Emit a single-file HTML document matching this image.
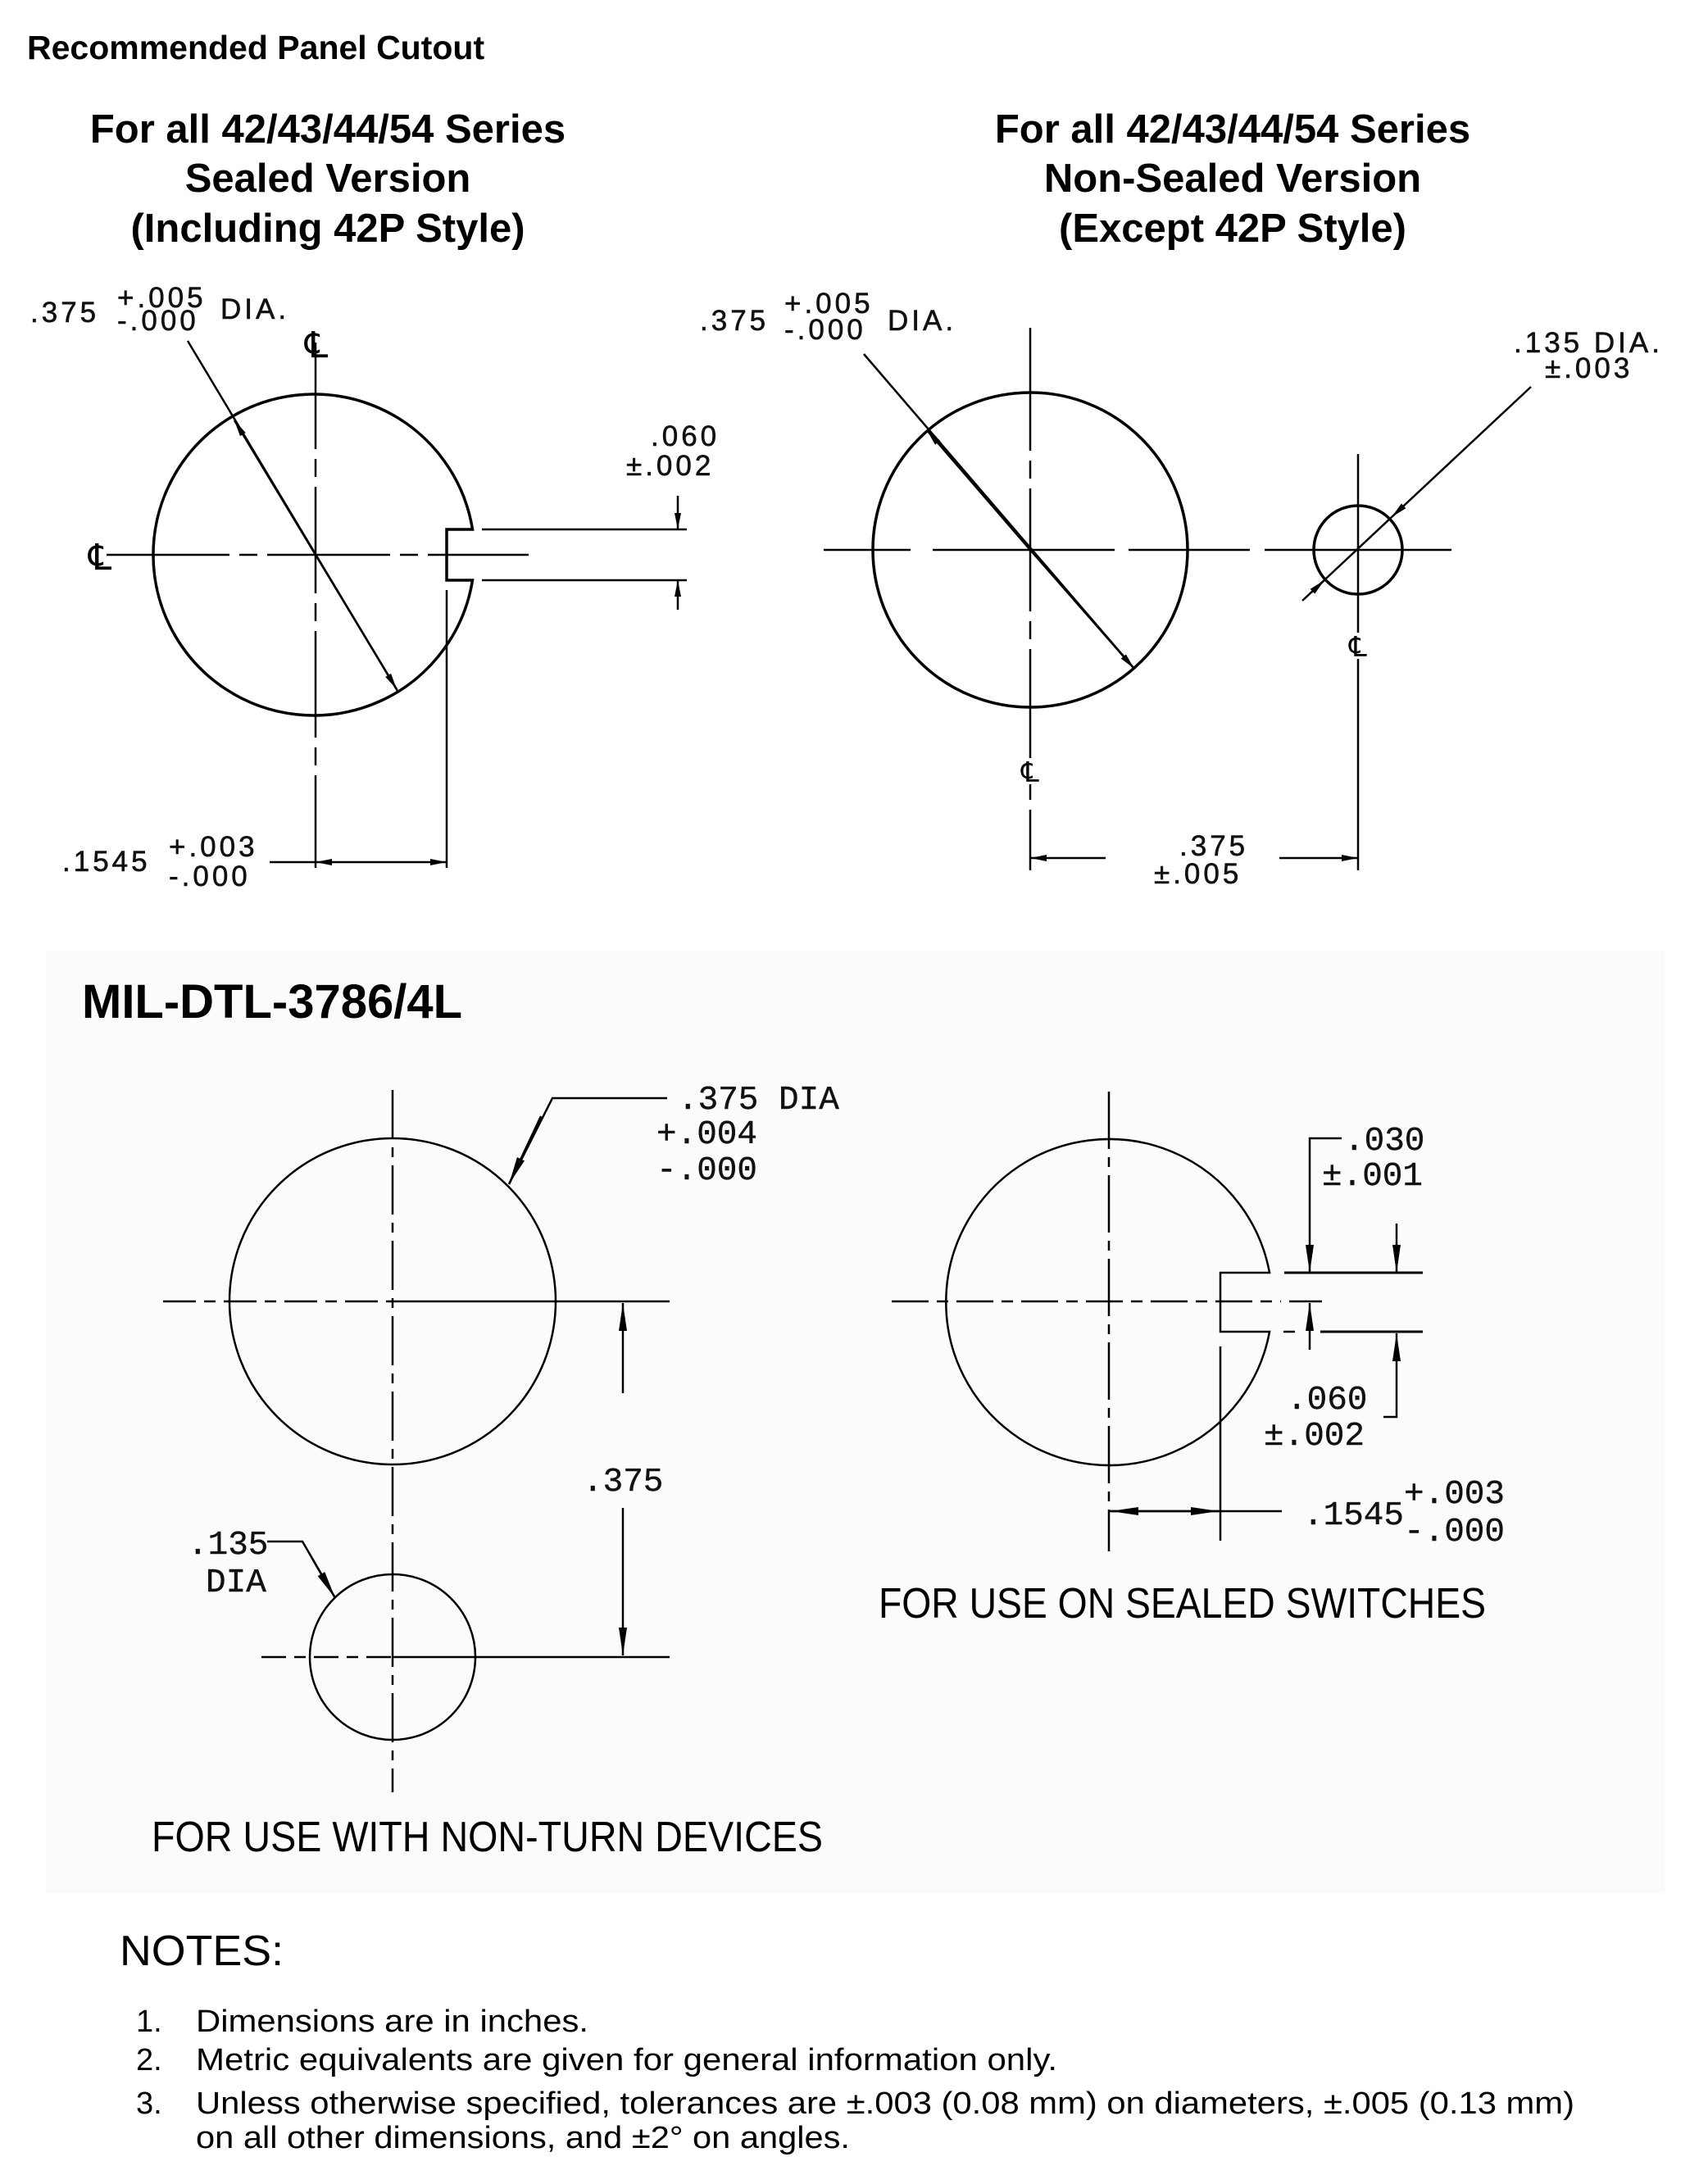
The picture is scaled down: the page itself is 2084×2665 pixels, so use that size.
<!DOCTYPE html>
<html><head><meta charset="utf-8"><style>
html,body{margin:0;padding:0;background:#fff}
svg{display:block}
.t{font-family:"Liberation Sans",sans-serif;fill:#000}
.d{font-family:"Liberation Sans",sans-serif;font-size:35px;letter-spacing:4px;fill:#111;stroke:#111;stroke-width:0.6}
.m{font-family:"Liberation Mono",monospace;font-size:41px;fill:#111;stroke:#111;stroke-width:0.4}
</style></head><body>
<svg width="2084" height="2665" viewBox="0 0 2084 2665" xmlns="http://www.w3.org/2000/svg">
<defs>
<marker id="a" viewBox="0 0 20 8" refX="20" refY="4" markerWidth="20" markerHeight="8" markerUnits="userSpaceOnUse" orient="auto-start-reverse"><path d="M0,0 L20,4 L0,8 Z" fill="#000"/></marker>
<marker id="b" viewBox="0 0 34 12" refX="34" refY="6" markerWidth="34" markerHeight="12" markerUnits="userSpaceOnUse" orient="auto-start-reverse"><path d="M0,1 L34,6 L0,11 Z" fill="#000"/></marker>
</defs>
<rect x="56" y="1160" width="1975" height="1150" fill="#fbfbfb"/>

<!-- Headings -->
<text class="t" x="33" y="72" font-size="41" font-weight="bold">Recommended Panel Cutout</text>
<g class="t" font-size="49" font-weight="bold" text-anchor="middle">
<text x="400" y="174">For all 42/43/44/54 Series</text>
<text x="400" y="234">Sealed Version</text>
<text x="400" y="295">(Including 42P Style)</text>
<text x="1504" y="174">For all 42/43/44/54 Series</text>
<text x="1504" y="234">Non-Sealed Version</text>
<text x="1504" y="295">(Except 42P Style)</text>
</g>

<!-- TOP LEFT -->
<g stroke="#000" fill="none">
<path d="M576.5 646 A196 196 0 1 0 576.5 708 L545 708 L545 646 Z" stroke-width="3.5"/>
<line x1="385" y1="418" x2="385" y2="1059" stroke-width="2.5" stroke-dasharray="130 12 22 12"/>
<line x1="130" y1="677" x2="645" y2="677" stroke-width="2.5" stroke-dasharray="150 12 22 12"/>
<line x1="588" y1="646" x2="838" y2="646" stroke-width="2.5"/>
<line x1="588" y1="708" x2="838" y2="708" stroke-width="2.5"/>
<line x1="229" y1="416" x2="485" y2="843" stroke-width="2.5"/>
<line x1="385" y1="677" x2="286" y2="513" stroke-width="2.5" marker-end="url(#a)"/>
<line x1="385" y1="677" x2="484" y2="841" stroke-width="2.5" marker-end="url(#a)"/>
<line x1="827" y1="605" x2="827" y2="646" stroke-width="2.5" marker-end="url(#a)"/>
<line x1="827" y1="744" x2="827" y2="708" stroke-width="2.5" marker-end="url(#a)"/>
<line x1="545" y1="720" x2="545" y2="1059" stroke-width="2.5"/>
<line x1="385" y1="1052" x2="545" y2="1052" stroke-width="2.5" marker-start="url(#a)" marker-end="url(#a)"/>
<line x1="329" y1="1052" x2="385" y2="1052" stroke-width="2.5"/>
</g>
<g class="d">
<text x="37" y="393">.375</text>
<text x="143" y="375">+.005</text>
<text x="143" y="403">-.000</text>
<text x="269" y="389">DIA.</text>
<text x="794" y="544">.060</text>
<text x="764" y="580">±.002</text>
<text x="76" y="1063">.1545</text>
<text x="206" y="1045">+.003</text>
<text x="206" y="1081">-.000</text>
</g>
<text class="t" x="372" y="436" font-size="44">℄</text>
<text class="t" x="108" y="695" font-size="44">℄</text>

<!-- TOP RIGHT -->
<g stroke="#000" fill="none">
<circle cx="1257" cy="671" r="192" stroke-width="3.5"/>
<circle cx="1657" cy="671" r="54" stroke-width="3.5"/>
<line x1="1257" y1="400" x2="1257" y2="1062" stroke-width="2.5" stroke-dasharray="150 12 22 12"/>
<line x1="1657" y1="554" x2="1657" y2="1062" stroke-width="2.5"/>
<path d="M1005 671 H1111 M1138 671 H1360 M1377 671 H1525 M1543 671 H1771" stroke-width="2.5"/>
<line x1="1054" y1="432" x2="1384" y2="816" stroke-width="2.5"/>
<line x1="1257" y1="671" x2="1131" y2="525" stroke-width="2.5" marker-end="url(#a)"/>
<line x1="1257" y1="671" x2="1384" y2="816" stroke-width="2.5" marker-end="url(#a)"/>
<line x1="1868" y1="472" x2="1698" y2="631" stroke-width="2.5" marker-end="url(#a)"/>
<line x1="1698" y1="631" x2="1589" y2="733" stroke-width="2.5"/>
<line x1="1600" y1="723" x2="1616" y2="708" stroke-width="2.5" marker-end="url(#a)"/>
<line x1="1349" y1="1047" x2="1257" y2="1047" stroke-width="2.5" marker-end="url(#a)"/>
<line x1="1561" y1="1047" x2="1657" y2="1047" stroke-width="2.5" marker-end="url(#a)"/>
</g>
<g class="d">
<text x="854" y="403">.375</text>
<text x="957" y="382">+.005</text>
<text x="957" y="414">-.000</text>
<text x="1083" y="403">DIA.</text>
<text x="1847" y="430">.135 DIA.</text>
<text x="1885" y="461">±.003</text>
<text x="1439" y="1044">.375</text>
<text x="1408" y="1078">±.005</text>
</g>
<rect x="1247" y="925" width="20" height="32" fill="#fff"/>
<text class="t" x="1246" y="954" font-size="34">℄</text>
<rect x="1647" y="772" width="20" height="32" fill="#fff"/>
<text class="t" x="1646" y="801" font-size="34">℄</text>

<!-- MIL section -->
<text class="t" x="100" y="1242" font-size="58" font-weight="bold">MIL-DTL-3786/4L</text>
<g stroke="#000" fill="none">
<circle cx="479" cy="1588" r="199" stroke-width="2.5"/>
<circle cx="479" cy="2022" r="101" stroke-width="2.5"/>
<line x1="479" y1="1330" x2="479" y2="2187" stroke-width="2.5" stroke-dasharray="60 10 12 10"/>
<line x1="199" y1="1588" x2="479" y2="1588" stroke-width="2.5" stroke-dasharray="40 10 14 10"/>
<line x1="479" y1="1588" x2="817" y2="1588" stroke-width="2.5"/>
<line x1="319" y1="2022" x2="479" y2="2022" stroke-width="2.5" stroke-dasharray="30 10 14 10"/>
<line x1="479" y1="2022" x2="817" y2="2022" stroke-width="2.5"/>
<line x1="760" y1="1700" x2="760" y2="1590" stroke-width="2.5" marker-end="url(#b)"/>
<line x1="760" y1="1840" x2="760" y2="2020" stroke-width="2.5" marker-end="url(#b)"/>
<polyline points="814,1340 674,1340 621,1445" stroke-width="2.5"/>
<line x1="660" y1="1362" x2="621" y2="1445" stroke-width="2.5" marker-end="url(#b)"/>
<polyline points="326,1881 369,1881 409,1950" stroke-width="2.5"/>
<line x1="380" y1="1900" x2="409" y2="1950" stroke-width="2.5" marker-end="url(#b)"/>
</g>
<g class="m">
<text x="827" y="1353">.375 DIA</text>
<text x="801" y="1395">+.004</text>
<text x="801" y="1439">-.000</text>
<text x="711" y="1819">.375</text>
<text x="229" y="1896">.135</text>
<text x="251" y="1942">DIA</text>
</g>
<text class="t" x="185" y="2259" font-size="52" textLength="819" lengthAdjust="spacingAndGlyphs">FOR  USE  WITH  NON-TURN  DEVICES</text>

<g stroke="#000" fill="none">
<path d="M1549 1553 A199 199 0 1 0 1549 1625 L1489 1625 L1489 1553 Z" stroke-width="2.5"/>
<line x1="1353" y1="1332" x2="1353" y2="1893" stroke-width="2.5" stroke-dasharray="70 10 12 10"/>
<line x1="1088" y1="1588" x2="1563" y2="1588" stroke-width="2.5" stroke-dasharray="45 10 14 10"/>
<line x1="1573" y1="1588" x2="1613" y2="1588" stroke-width="2.5"/>
<line x1="1489" y1="1643" x2="1489" y2="1880" stroke-width="2.5"/>
<line x1="1567" y1="1553" x2="1736" y2="1553" stroke-width="3"/>
<line x1="1611" y1="1625" x2="1736" y2="1625" stroke-width="3"/>
<polyline points="1637,1389 1598,1389 1598,1500" stroke-width="2.5"/>
<line x1="1598" y1="1500" x2="1598" y2="1553" stroke-width="2.5" marker-end="url(#b)"/>
<line x1="1704" y1="1493" x2="1704" y2="1553" stroke-width="2.5" marker-end="url(#b)"/>
<line x1="1598" y1="1647" x2="1598" y2="1590" stroke-width="2.5" marker-end="url(#b)"/>
<polyline points="1688,1729 1704,1729 1704,1680" stroke-width="2.5"/>
<line x1="1704" y1="1680" x2="1704" y2="1627" stroke-width="2.5" marker-end="url(#b)"/>
<line x1="1566" y1="1625" x2="1580" y2="1625" stroke-width="2.5"/>
<line x1="1353" y1="1844" x2="1564" y2="1844" stroke-width="2.5"/>
<line x1="1420" y1="1844" x2="1355" y2="1844" stroke-width="2.5" marker-end="url(#b)"/>
<line x1="1420" y1="1844" x2="1487" y2="1844" stroke-width="2.5" marker-end="url(#b)"/>
</g>
<g class="m">
<text x="1640" y="1403">.030</text>
<text x="1613" y="1446">±.001</text>
<text x="1570" y="1719">.060</text>
<text x="1542" y="1763">±.002</text>
<text x="1590" y="1860">.1545</text>
<text x="1713" y="1834">+.003</text>
<text x="1713" y="1880">-.000</text>
</g>
<text class="t" x="1072" y="1974" font-size="52" textLength="741" lengthAdjust="spacingAndGlyphs">FOR  USE  ON  SEALED  SWITCHES</text>

<!-- NOTES -->
<text class="t" x="146" y="2398" font-size="52" textLength="200" lengthAdjust="spacingAndGlyphs">NOTES:</text>
<g class="t" font-size="38">
<text x="166" y="2479">1.</text>
<text x="239" y="2479" textLength="479" lengthAdjust="spacingAndGlyphs">Dimensions are in inches.</text>
<text x="166" y="2526">2.</text>
<text x="239" y="2526" textLength="1051" lengthAdjust="spacingAndGlyphs">Metric equivalents are given for general information only.</text>
<text x="166" y="2579">3.</text>
<text x="239" y="2579" textLength="1682" lengthAdjust="spacingAndGlyphs">Unless otherwise specified, tolerances are ±.003 (0.08 mm) on diameters, ±.005 (0.13 mm)</text>
<text x="239" y="2621" textLength="798" lengthAdjust="spacingAndGlyphs">on all other dimensions, and ±2° on angles.</text>
</g>
</svg>
</body></html>
